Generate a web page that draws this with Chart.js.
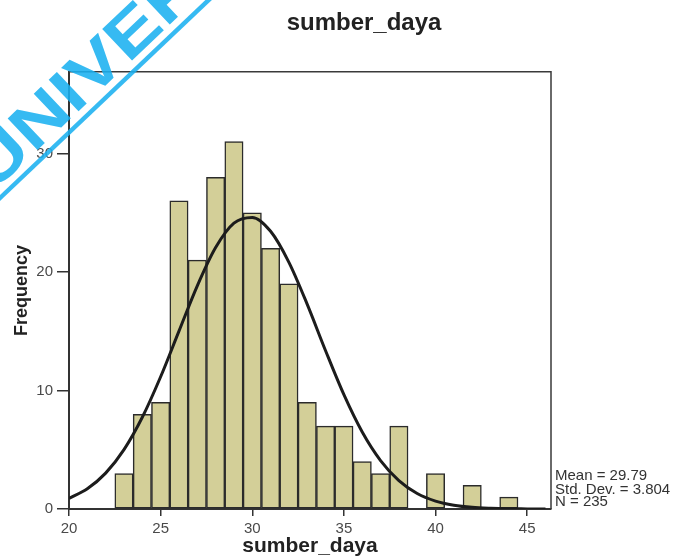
<!DOCTYPE html>
<html>
<head>
<meta charset="utf-8">
<script src="https://cdn.jsdelivr.net/npm/chart.js@4"></script>
<style>
  html, body { margin: 0; padding: 0; background: #ffffff; }
  #wrap { width: 678px; height: 559px; position: relative; }
</style>
</head>
<body>
<div id="wrap"><canvas id="c" width="678" height="559"></canvas></div>
<script>
// ---- data ----
const chartTitle = 'sumber_daya';
const xAxisTitle = 'sumber_daya';
const yAxisTitle = 'Frequency';
const binCenters  = [23, 24, 25, 26, 27, 28, 29, 30, 31, 32, 33, 34, 35, 36, 37, 38, 40, 42, 44];
const frequencies = [ 3,  8,  9, 26, 21, 28, 31, 25, 22, 19,  9,  7,  7,  4,  3,  7,  3,  2,  1];
const curveX = [20, 21, 22, 23, 24, 25, 26, 27, 28, 29, 30, 31, 32, 33, 34, 35, 36, 37, 38, 39, 40, 41, 42, 43, 44, 45, 46];
const curveY = [0.90, 1.71, 3.03, 5.01, 7.74, 11.16, 15.01, 18.84, 22.07, 24.13, 24.61, 23.44, 20.82, 17.27, 13.36, 9.65, 6.50, 4.09, 2.40, 1.31, 0.67, 0.32, 0.14, 0.06, 0.02, 0.01, 0.00];
const xTicks = [20, 25, 30, 35, 40, 45];
const yTicks = [0, 10, 20, 30];
const statsLines = ['Mean = 29.79', 'Std. Dev. = 3.804', 'N = 235'];
const watermarkText = 'UNIVERSITAS';

const FONT = '"Liberation Sans", Arial, Helvetica, sans-serif';

const framePlugin = {
  id: 'frame',
  beforeDatasetsDraw(chart) {
    const {ctx, chartArea: a} = chart;
    ctx.save();
    ctx.strokeStyle = '#3a3a3a';
    ctx.lineWidth = 1.5;
    ctx.beginPath();
    ctx.moveTo(a.left, a.top);
    ctx.lineTo(a.right, a.top);
    ctx.lineTo(a.right, a.bottom);
    ctx.stroke();
    ctx.restore();
  }
};

const statsPlugin = {
  id: 'stats',
  afterDraw(chart) {
    const {ctx, chartArea: a} = chart;
    ctx.save();
    ctx.font = '15px ' + FONT;
    ctx.fillStyle = '#333333';
    ctx.textAlign = 'left';
    ctx.textBaseline = 'alphabetic';
    const base = [a.bottom - 29, a.bottom - 15, a.bottom - 3];
    statsLines.forEach((t, i) => ctx.fillText(t, a.right + 4, base[i]));
    ctx.restore();
  }
};

const watermarkPlugin = {
  id: 'watermark',
  afterDraw(chart) {
    const {ctx} = chart;
    const ang = -43.5 * Math.PI / 180;
    const ux = Math.cos(ang), uy = Math.sin(ang);
    const nx = uy, ny = -ux; // perpendicular (up-left)
    const p0x = 0, p0y = 198;
    ctx.save();
    ctx.globalAlpha = 0.88;
    ctx.strokeStyle = '#1ab0f0';
    ctx.fillStyle = '#1ab0f0';
    ctx.lineWidth = 4.5;
    ctx.beginPath();
    ctx.moveTo(p0x - 100 * ux, p0y - 100 * uy);
    ctx.lineTo(p0x + 400 * ux, p0y + 400 * uy);
    ctx.stroke();
    const ox = p0x - 1.4 * ux + 9 * nx;
    const oy = p0y - 1.4 * uy + 9 * ny;
    ctx.translate(ox, oy);
    ctx.rotate(ang);
    ctx.scale(1.24, 1);
    ctx.font = 'bold 63px ' + FONT;
    ctx.textAlign = 'left';
    ctx.textBaseline = 'alphabetic';
    ctx.fillText(watermarkText, 0, 0);
    ctx.restore();
  }
};

new Chart(document.getElementById('c'), {
  type: 'bar',
  data: {
    datasets: [
      {
        type: 'line',
        data: curveX.map((x, i) => ({x: x, y: curveY[i]})),
        borderColor: '#1c1c1c',
        borderWidth: 3,
        pointRadius: 0,
        fill: false,
        cubicInterpolationMode: 'monotone',
        order: 0
      },
      {
        type: 'bar',
        data: binCenters.map((x, i) => ({x: x, y: frequencies[i]})),
        backgroundColor: '#d3cf98',
        borderColor: '#2b2b2b',
        borderWidth: 1.5,
        borderSkipped: false,
        barPercentage: 1,
        categoryPercentage: 1,
        order: 1
      }
    ]
  },
  options: {
    responsive: false,
    animation: false,
    devicePixelRatio: 1,
    layout: { padding: { left: 0, right: -50, top: 0, bottom: 0 } },
    plugins: {
      legend: { display: false },
      tooltip: { enabled: false },
      title: {
        display: true,
        text: chartTitle,
        color: '#222222',
        font: { family: FONT, size: 24, weight: 'bold' },
        padding: { top: 9, bottom: 34 }
      }
    },
    scales: {
      x: {
        type: 'linear',
        min: 20,
        max: 46.3,
        offset: false,
        afterBuildTicks(scale) { scale.ticks = xTicks.map(v => ({value: v})); },
        afterFit(scale) { scale.height = 50; },
        grid: { display: true, drawOnChartArea: false, drawTicks: true, tickLength: 7, color: '#333333', lineWidth: 1.5, offset: false },
        border: { display: true, color: '#333333', width: 2 },
        ticks: { color: '#4a4a4a', font: { family: FONT, size: 15 }, padding: 4, maxRotation: 0 },
        title: {
          display: true,
          text: xAxisTitle,
          color: '#222222',
          font: { family: FONT, size: 21, weight: 'bold' },
          padding: { top: 0, bottom: 0 }
        }
      },
      y: {
        type: 'linear',
        position: 'left',
        min: 0,
        max: 36.9,
        afterBuildTicks(scale) { scale.ticks = yTicks.map(v => ({value: v})); },
        afterFit(scale) { scale.width = 69; },
        grid: { display: true, drawOnChartArea: false, drawTicks: true, tickLength: 12, color: '#333333', lineWidth: 1.5 },
        border: { display: true, color: '#333333', width: 2 },
        ticks: { color: '#4a4a4a', font: { family: FONT, size: 15 }, padding: 4 },
        title: {
          display: true,
          text: yAxisTitle,
          color: '#222222',
          font: { family: FONT, size: 18, weight: 'bold' },
          padding: { top: 11.2, bottom: 0 }
        }
      },
      y2: {
        type: 'linear',
        position: 'right',
        display: true,
        afterFit(scale) { scale.width = 177; },
        grid: { display: false, drawTicks: false },
        border: { display: false },
        ticks: { display: false }
      }
    }
  },
  plugins: [framePlugin, statsPlugin, watermarkPlugin]
});
</script>
</body>
</html>
